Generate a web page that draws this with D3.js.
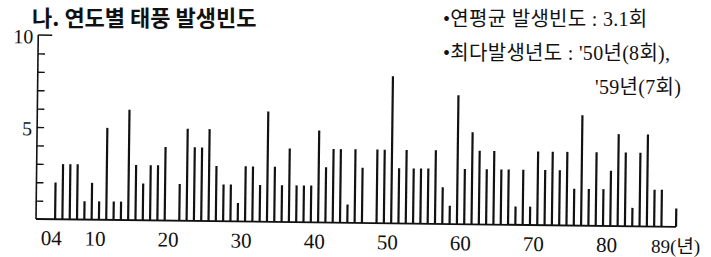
<!DOCTYPE html>
<html>
<head>
<meta charset="utf-8">
<script src="https://cdn.jsdelivr.net/npm/d3@7"></script>
<style>
  body { margin: 0; background: #fff; }
  svg { display: block; }
  text { fill: #111; }
</style>
</head>
<body>
<svg width="711" height="257"></svg>
<script>
// yearly typhoon counts, 1904 - 1989
var startYear = 1904, endYear = 1989
var counts = [
    2,3,3,3,1,2,1,5,1,1,6,3,2,3,      // 1904-1917
    3,4,0,2,5,4,4,5,3,2,2,1,3,3,2,    // 1918-1932
    6,3,2,4,2,2,2,5,3,4,4,1,4,3,      // 1933-1946
    0,4,4,8,3,4,3,3,3,4,2,1,7,3,5,4,  // 1947-1962
    3,4,3,3,1,3,1,4,3,4,3,4,2,6,2,    // 1963-1977
    4,2,3,5,4,1,4,5,2,2,0,1           // 1978-1989
]
var years = d3.range(startYear, endYear + 1)
var xTicks = [1904, 1910, 1920, 1930, 1940, 1950, 1960, 1970, 1980, 1989]
var xTickLabels = ["04", "10", "20", "30", "40", "50", "60", "70", "80", "89"]
var yTicks = [5, 10]
var title = "나. 연도별 태풍 발생빈도"
var notes = ["•연평균 발생빈도 : 3.1회", "•최다발생년도 : '50년(8회),", "'59년(7회)"]

function main(){
    var data = years.map(function(y, i){ return {year: y, value: counts[i]} })
    var svg = d3.select("svg")
    var serif = "'Liberation Serif', 'Noto Sans CJK KR', serif"

    var axisX = 36, baseY = 219
    var xScale = d3.scaleLinear().domain([startYear, endYear]).range([55, 676]),
        yScale = d3.scaleLinear().domain([0, 10]).range([baseY, 35])

    // title
    svg.append("text")
        .attr("x", 32).attr("y", 26)
        .attr("font-family", "'Noto Sans CJK KR', sans-serif")
        .attr("font-weight", "bold")
        .attr("font-size", 22)
        .text(title)

    // notes top right
    svg.selectAll(".note")
        .data(notes)
        .enter()
        .append("text")
        .attr("class", "note")
        .attr("x", function(d, i){ return i == 2 ? 595 : 443 })
        .attr("y", function(d, i){ return 26 + i * 34 })
        .attr("font-family", serif)
        .attr("font-size", 20)
        .attr("letter-spacing", 0.3)
        .text(function(d){ return d })

    // the scan is slightly tilted
    var g = svg.append("g")
        .attr("transform", "rotate(0.7," + axisX + "," + baseY + ")")

    // y axis: line, minor ticks inside, labels
    g.append("line")
        .attr("x1", axisX).attr("x2", axisX)
        .attr("y1", yScale(0)).attr("y2", yScale(10))
        .attr("stroke", "#111").attr("stroke-width", 1.6)
    g.append("line")
        .attr("x1", axisX).attr("x2", axisX + 14)
        .attr("y1", yScale(10)).attr("y2", yScale(10))
        .attr("stroke", "#111").attr("stroke-width", 1.6)

    var minor = g.append("g")
        .attr("transform", "translate(" + axisX + ",0)")
        .call(d3.axisRight(yScale).tickValues(d3.range(1, 10)).tickSize(7).tickFormat(""))
    minor.select(".domain").remove()
    minor.selectAll("line").attr("stroke", "#111").attr("stroke-width", 1.4)

    var yAx = g.append("g")
        .attr("transform", "translate(" + (axisX - 5) + ",0)")
        .call(d3.axisLeft(yScale).tickValues(yTicks).tickSize(0).tickPadding(0))
    yAx.select(".domain").remove()
    yAx.selectAll("text")
        .attr("font-family", serif)
        .attr("font-size", 20)
        .attr("dy", "0.4em")
        .attr("fill", "#111")

    // x axis baseline
    g.append("line")
        .attr("x1", axisX).attr("x2", xScale(endYear))
        .attr("y1", baseY).attr("y2", baseY)
        .attr("stroke", "#111").attr("stroke-width", 1.8)

    var xAx = g.append("g")
        .attr("transform", "translate(0," + baseY + ")")
        .call(d3.axisBottom(xScale).tickValues(xTicks).tickSize(0).tickPadding(0)
            .tickFormat(function(d, i){ return xTickLabels[i] }))
    xAx.select(".domain").remove()
    xAx.selectAll("text")
        .attr("font-family", serif)
        .attr("font-size", 21)
        .attr("y", 26)
        .attr("dy", 0)
        .attr("dx", -4)
        .attr("fill", "#111")
    // last label carries the unit
    xAx.selectAll(".tick").filter(function(d){ return d == endYear })
        .select("text")
        .attr("text-anchor", "end")
        .attr("font-size", 19)
        .attr("dx", 24)
        .text("89(년)")

    // bars as thin spikes
    g.selectAll(".bar")
        .data(data.filter(function(d){ return d.value > 0 }))
        .enter()
        .append("rect")
        .attr("class", "bar")
        .attr("x", function(d){ return xScale(d.year) - 1 })
        .attr("y", function(d){ return yScale(d.value) })
        .attr("width", 2.2)
        .attr("height", function(d){ return baseY - yScale(d.value) })
        .attr("fill", "#111")
}
main()
</script>
</body>
</html>
